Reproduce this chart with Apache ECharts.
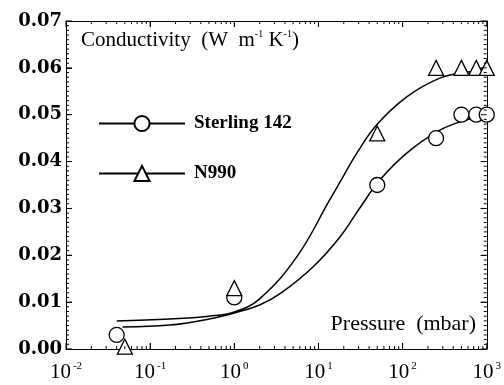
<!DOCTYPE html>
<html>
<head>
<meta charset="utf-8">
<script src="https://cdn.jsdelivr.net/npm/echarts@6/dist/echarts.min.js"></script>
<style>
  html, body { margin: 0; padding: 0; background: #fff; }
  #chart { width: 504px; height: 385px; }
</style>
</head>
<body>
<div id="chart"></div>
<script>
// measured points (pressure in mbar, conductivity in W m-1 K-1)
const sterlingP = [0.04, 1, 50, 250, 500, 750, 1000];
const sterlingK = [0.003, 0.011, 0.035, 0.045, 0.050, 0.050, 0.050];
const n990P = [0.05, 1, 50, 250, 500, 750, 1000];
const n990K = [0.0005, 0.013, 0.046, 0.060, 0.060, 0.060, 0.060];

// fitted curves
const sterlingFitP = [0.047, 0.17, 0.5, 1, 2, 3.5, 8.6, 18, 31, 54, 112, 277, 580, 1000];
const sterlingFitK = [0.0047, 0.0051, 0.0064, 0.0077, 0.0094, 0.0118, 0.0175, 0.0239, 0.0301, 0.0361, 0.0418, 0.0467, 0.0489, 0.0495];
const n990FitP = [0.04, 0.17, 0.5, 1, 2, 5.5, 13.6, 18, 28.6, 49, 112, 277, 580, 1000];
const n990FitK = [0.0060, 0.0064, 0.0070, 0.0079, 0.0107, 0.0196, 0.0318, 0.0356, 0.0418, 0.0478, 0.0538, 0.0578, 0.0591, 0.0593];

// axis ticks
const xTickValues = [0.01, 0.1, 1, 10, 100, 1000];
const xTickExps = ['-2', '-1', '0', '1', '2', '3'];
const minorMultipliers = [2, 3, 4, 5, 6, 7, 8, 9];
const yTickValues = [0, 0.01, 0.02, 0.03, 0.04, 0.05, 0.06, 0.07];
const yTickLabels = ['0.00', '0.01', '0.02', '0.03', '0.04', '0.05', '0.06', '0.07'];

// minor ticks: 2..9 per decade on x, every 0.001 on y
const xMinorTicks = [];
xTickValues.slice(0, -1).forEach((decade) => {
  minorMultipliers.forEach((m) => xMinorTicks.push(+(m * decade).toPrecision(3)));
});
const yMinorTicks = [];
yTickValues.slice(0, -1).forEach((base) => {
  for (let k = 1; k < 10; k++) yMinorTicks.push(+(base + k * 0.001).toFixed(3));
});

const pairs = (xs, ys) => xs.map((x, i) => [x, ys[i]]);

const serif = 'Liberation Serif';
const black = '#000';
const xMin = 0.01, xMax = 1000, yMin = 0, yMax = 0.07;

const chart = echarts.init(document.getElementById('chart'));

// inward tick marks as tiny rect symbols sitting on the frame;
// named like a legend entry so the legend never filters them out
const tickMarks = (data, size, offset) => ({
  name: 'Sterling 142',
  type: 'scatter',
  data: data,
  symbol: 'rect',
  symbolSize: size,
  symbolOffset: offset,
  clip: false,
  silent: true,
  legendHoverLink: false,
  itemStyle: { color: black, borderWidth: 0, opacity: 1 },
  z: 4,
});

const axisTicks = (values, len) => ({
  show: true,
  inside: true,
  length: len,
  customValues: values,
  lineStyle: { color: black, width: 1 },
});

const frameLine = { show: true, onZero: false, lineStyle: { color: black, width: 1 } };

const option = {
  animation: false,
  grid: { left: 66, right: 16, top: 21, bottom: 36 },
  title: [
    {
      text: 'Conductivity  (W  m{sup|-1} K{sup|-1})',
      left: 81,
      top: 29,
      padding: 0,
      textStyle: {
        color: black,
        fontFamily: serif,
        fontWeight: 'normal',
        fontSize: 21,
        lineHeight: 23,
        rich: {
          sup: { fontFamily: serif, fontSize: 10, verticalAlign: 'top', lineHeight: 23, color: black },
        },
      },
    },
    {
      text: 'Pressure  (mbar)',
      right: 28,
      top: 312,
      padding: 0,
      textStyle: {
        color: black,
        fontFamily: serif,
        fontWeight: 'normal',
        fontSize: 22,
        lineHeight: 24,
      },
    },
  ],
  legend: {
    orient: 'vertical',
    left: 98,
    top: 114,
    padding: 0,
    itemWidth: 86,
    itemHeight: 19,
    itemGap: 31,
    data: ['Sterling 142', 'N990'],
    selectedMode: false,
    textStyle: {
      color: black,
      fontFamily: serif,
      fontWeight: 'bold',
      fontSize: 19,
      padding: [0, 0, 0, 4],
    },
  },
  xAxis: [
    {
      type: 'log',
      logBase: 10,
      min: xMin,
      max: xMax,
      splitLine: { show: false },
      axisLine: frameLine,
      axisTick: axisTicks(xTickValues, 6),
      axisLabel: {
        margin: 12,
        color: black,
        fontFamily: serif,
        fontSize: 21,
        lineHeight: 22,
        formatter: (v, i) => '10{sup|' + xTickExps[i] + '}',
        rich: {
          sup: { fontFamily: serif, fontSize: 11, verticalAlign: 'top', lineHeight: 22, color: black, padding: [0, 0, 0, 2] },
        },
      },
    },
    {
      type: 'log',
      logBase: 10,
      min: xMin,
      max: xMax,
      position: 'top',
      splitLine: { show: false },
      axisLine: frameLine,
      axisTick: axisTicks(xTickValues, 6),
      axisLabel: { show: false },
    },
  ],
  yAxis: [
    {
      type: 'value',
      min: yMin,
      max: yMax,
      interval: 0.01,
      splitLine: { show: false },
      axisLine: frameLine,
      axisTick: axisTicks(yTickValues, 6),
      axisLabel: {
        margin: 4,
        color: black,
        fontFamily: 'DejaVu Serif',
        fontWeight: 'bold',
        fontSize: 18,
        formatter: (v, i) => yTickLabels[i],
      },
    },
    {
      type: 'value',
      min: yMin,
      max: yMax,
      interval: 0.01,
      position: 'right',
      splitLine: { show: false },
      axisLine: frameLine,
      axisTick: axisTicks(yTickValues, 6),
      axisLabel: { show: false },
    },
  ],
  series: [
    {
      name: 'Sterling 142',
      type: 'line',
      data: pairs(sterlingFitP, sterlingFitK),
      smooth: 0.4,
      symbol: 'emptyCircle',
      showSymbol: false,
      itemStyle: { color: black },
      lineStyle: { color: black, width: 1.5 },
      z: 2,
    },
    {
      name: 'N990',
      type: 'line',
      data: pairs(n990FitP, n990FitK),
      smooth: 0.4,
      symbol: 'emptyTriangle',
      showSymbol: false,
      itemStyle: { color: black },
      lineStyle: { color: black, width: 1.5 },
      z: 2,
    },
    {
      name: 'Sterling 142',
      type: 'scatter',
      data: pairs(sterlingP, sterlingK),
      symbol: 'circle',
      symbolSize: 15,
      clip: false,
      itemStyle: { color: '#fff', borderColor: black, borderWidth: 1.3, opacity: 1 },
      z: 3,
    },
    {
      name: 'N990',
      type: 'scatter',
      data: pairs(n990P, n990K),
      symbol: 'triangle',
      symbolSize: 15,
      clip: false,
      itemStyle: { color: '#fff', borderColor: black, borderWidth: 1.3, opacity: 1 },
      z: 3,
    },
    // bottom and top x ticks
    tickMarks(xTickValues.map((v) => [v, yMin]), [1, 6], [0, -3]),
    tickMarks(xMinorTicks.map((v) => [v, yMin]), [1, 3], [0, -1.5]),
    tickMarks(xTickValues.map((v) => [v, yMax]), [1, 6], [0, 3]),
    tickMarks(xMinorTicks.map((v) => [v, yMax]), [1, 3], [0, 1.5]),
    // left and right y ticks
    tickMarks(yTickValues.map((v) => [xMin, v]), [6, 1], [3, 0]),
    tickMarks(yMinorTicks.map((v) => [xMin, v]), [3, 1], [1.5, 0]),
    tickMarks(yTickValues.map((v) => [xMax, v]), [6, 1], [-3, 0]),
    tickMarks(yMinorTicks.map((v) => [xMax, v]), [3, 1], [-1.5, 0]),
  ],
};

chart.setOption(option);
</script>
</body>
</html>
